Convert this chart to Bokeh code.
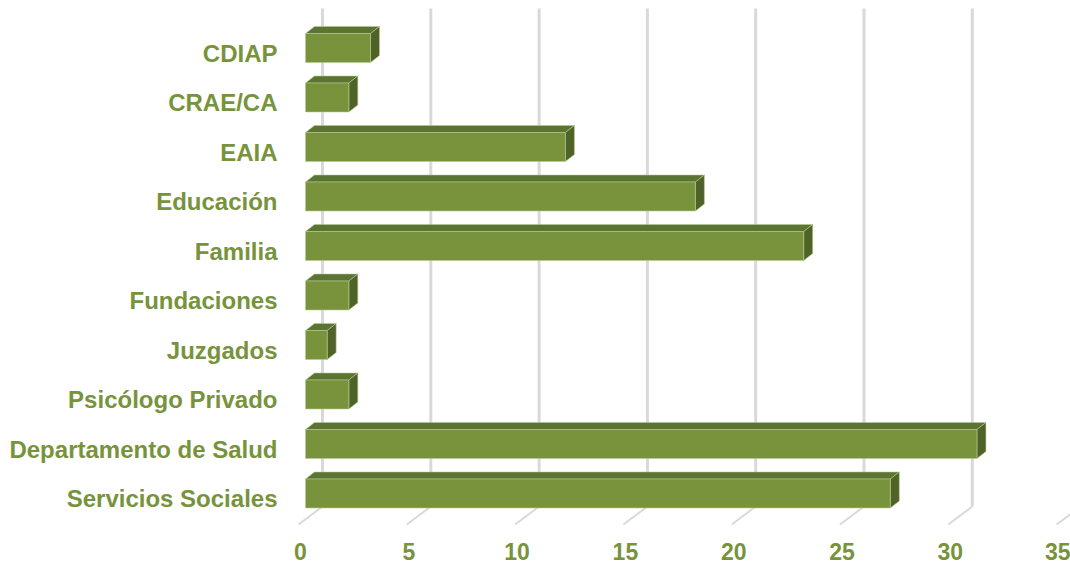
from bokeh.plotting import figure
from bokeh.models import Range1d, LinearAxis, FixedTicker
from bokeh.embed import file_html
from bokeh.resources import INLINE

# ---- data ----
categories = ["CDIAP", "CRAE/CA", "EAIA", "Educación", "Familia", "Fundaciones",
              "Juzgados", "Psicólogo Privado", "Departamento de Salud", "Servicios Sociales"]
values = [3, 2, 12, 18, 23, 2, 1, 2, 31, 27]
x_ticks = [0, 5, 10, 15, 20, 25, 30, 35]

# ---- layout constants (pixels) ----
W, H = 1070, 564
FRAME_LEFT = 290
FRAME_BOTTOM_PX = 530          # frame spans y 0..530
PX_PER_UNIT = 21.66
X0_PX = 305                     # value 0 on front plane
ROW0_PX = 47.5
ROW_STEP = 49.5
BAR_HALF_PX = 14.5
DEPTH_DX_PX, DEPTH_DY_PX = 9, -7
BACK_DX_PX = 17
GRID_TOP_PX, GRID_BOT_PX = 8, 506
FLOOR_DX_PX, FLOOR_BOT_PX = -24, 524

def xd(px):
    return (px - X0_PX) / PX_PER_UNIT

def yd(px):
    return (px - ROW0_PX) / ROW_STEP

x_start, x_end = xd(FRAME_LEFT), xd(W)
y_start, y_end = yd(FRAME_BOTTOM_PX), yd(0)

p = figure(width=W, height=H, output_backend="svg", toolbar_location=None,
           x_range=Range1d(x_start, x_end), y_range=Range1d(y_start, y_end),
           x_axis_location=None, y_axis_location=None,
           min_border_left=FRAME_LEFT, min_border_right=0, min_border_top=0,
           min_border_bottom=H - FRAME_BOTTOM_PX, background_fill_color="white",
           border_fill_color="white")
p.outline_line_color = None
p.xgrid.visible = False
p.ygrid.visible = False

# extra ranges for shifted labels
LAB_X_SHIFT = -5   # label centre 5 px left of front plane position
LAB_Y_SHIFT = 5    # labels 5 px below bar centre
p.extra_x_ranges = {"lab": Range1d(x_start - LAB_X_SHIFT / PX_PER_UNIT, x_end - LAB_X_SHIFT / PX_PER_UNIT)}
p.extra_y_ranges = {"lab": Range1d(y_start - LAB_Y_SHIFT / ROW_STEP, y_end - LAB_Y_SHIFT / ROW_STEP)}

label_color = "#77933C"

# gridlines on back wall
bdx = BACK_DX_PX / PX_PER_UNIT
gx = [v + bdx for v in x_ticks]
p.segment(x0=gx, y0=[yd(GRID_TOP_PX)] * len(gx), x1=gx, y1=[yd(GRID_BOT_PX)] * len(gx),
          line_color="#D9D9D9", line_width=3)
# floor ticks
fx1 = [v + bdx + FLOOR_DX_PX / PX_PER_UNIT for v in x_ticks]
p.segment(x0=gx, y0=[yd(GRID_BOT_PX)] * len(gx), x1=fx1, y1=[yd(FLOOR_BOT_PX)] * len(gx),
          line_color="#D9D9D9", line_width=2)

# bars
h = BAR_HALF_PX / ROW_STEP
ddx = DEPTH_DX_PX / PX_PER_UNIT
ddy = DEPTH_DY_PX / ROW_STEP
rows = list(range(len(categories)))
top_xs, top_ys, side_xs, side_ys = [], [], [], []
for r, v in zip(rows, values):
    t, b = r - h, r + h
    top_xs.append([0, v, v + ddx, ddx])
    top_ys.append([t, t, t + ddy, t + ddy])
    side_xs.append([v, v + ddx, v + ddx, v])
    side_ys.append([t, t + ddy, b + ddy, b])

edge = "#B9C994"
p.patches(top_xs, top_ys, fill_color="#5B7431", line_color=edge, line_width=0.8, line_alpha=0.7)
p.patches(side_xs, side_ys, fill_color="#4F6228", line_color=edge, line_width=0.8, line_alpha=0.7)
p.quad(left=[0] * len(values), right=values, top=[r - h for r in rows], bottom=[r + h for r in rows],
       fill_color="#78933C", line_color=edge, line_width=0.8, line_alpha=0.7)

# axes
yax = LinearAxis(y_range_name="lab", ticker=FixedTicker(ticks=rows),
                 major_label_overrides={r: c for r, c in zip(rows, categories)})
xax = LinearAxis(x_range_name="lab", ticker=FixedTicker(ticks=x_ticks))
for ax in (yax, xax):
    ax.axis_line_color = None
    ax.major_tick_line_color = None
    ax.minor_tick_line_color = None
    ax.major_tick_out = 0
    ax.major_tick_in = 0
    ax.minor_tick_out = 0
    ax.major_label_text_font = "Liberation Sans"
    ax.major_label_text_font_style = "bold"
    ax.major_label_text_color = label_color
yax.major_label_text_font_size = "24px"
xax.major_label_text_font_size = "23px"
yax.major_label_standoff = 13
xax.major_label_standoff = 12
p.add_layout(yax, "left")
p.add_layout(xax, "below")

open("out.html", "w").write(file_html(p, INLINE))
